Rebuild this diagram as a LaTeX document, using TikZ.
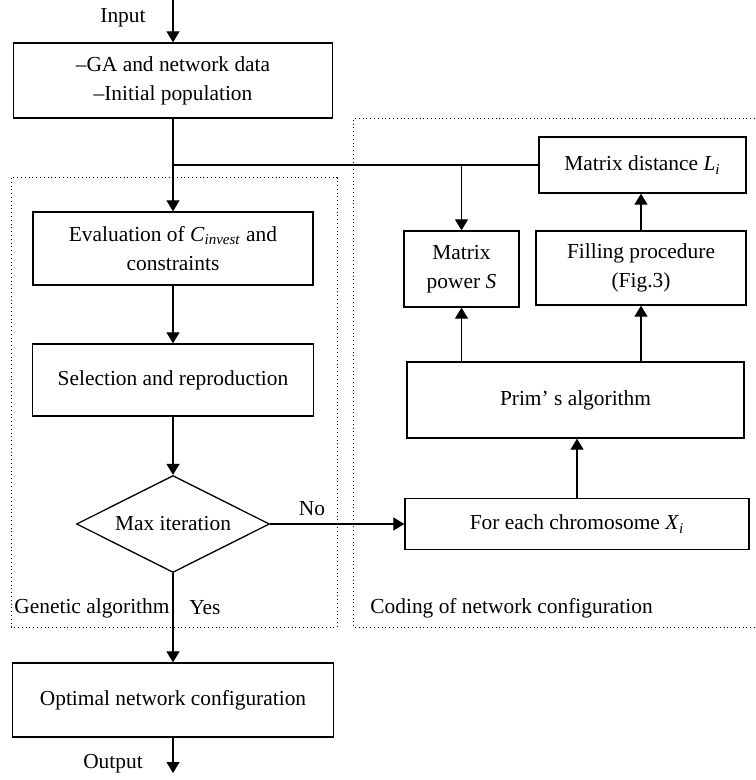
\documentclass[tikz,border=0pt]{standalone}
\usepackage{fontspec}
\setmainfont{Liberation Serif}
\usetikzlibrary{shapes.geometric,arrows.meta}

\newcommand*{\sub}[2]{\textit{#1}\textsubscript{\textit{#2}}}

\begin{document}
\begin{tikzpicture}
[
	x=0.5pt,
	y=-0.5pt,
	font=\fontsize{10.7}{14.5}\selectfont,
	box/.style={rectangle,draw,line width=0.65pt,align=center,inner sep=2pt},
	decision/.style={diamond,draw,line width=0.65pt,aspect=2,inner sep=0pt,minimum width=96.5pt,minimum height=48.5pt},
	arr/.style={-{Triangle[length=5.5pt,width=6.5pt]},line width=0.6pt},
	region/.style={line width=0.5pt,dash pattern=on 0.5pt off 1.4pt}
]

	\useasboundingbox (0,0) rectangle (755,780);

	% genetic algorithm column
	\node[box,minimum width=159.5pt,minimum height=37.5pt] at (173,80.5) (data) {--GA and network data\\--Initial population};
	\node[box,minimum width=140pt,minimum height=36.5pt] at (173,248.5) (eval) {Evaluation of \sub{C}{invest} and\\constraints};
	\node[box,minimum width=140.5pt,minimum height=36pt] at (173,380) (sel) {Selection and reproduction};
	\node[decision] at (173,524) (maxit) {Max iteration};
	\node[box,minimum width=160.5pt,minimum height=37pt] at (173,700) (opt) {Optimal network configuration};

	% coding column
	\node[box,minimum width=103.5pt,minimum height=28pt] at (642.5,165) (mdist) {Matrix distance \sub{L}{i}};
	\node[box,minimum width=57.5pt,minimum height=38pt] at (461.5,269) (mpow) {Matrix\\power \textit{S}};
	\node[box,minimum width=105pt,minimum height=37pt] at (641,268) (fill) {Filling procedure\\(Fig.3)};
	\node[box,minimum width=168.5pt,minimum height=38pt] at (575.5,400) (prim) {Prim’ s algorithm};
	\node[box,minimum width=172pt,minimum height=25.5pt] at (577,524) (chrom) {For each chromosome \sub{X}{i}};

	\coordinate (in) at (173,0);
	\coordinate (out) at (173,773);
	\coordinate (split) at (173,165);

	% flow
	\draw[arr] (in) -- (data.north);
	\draw[arr] (data.south) -- (eval.north);
	\draw[line width=0.6pt] (split) -- (mdist.west);
	\draw[arr] (mpow.north |- split) -- (mpow.north);
	\draw[arr] (eval.south) -- (sel.north);
	\draw[arr] (sel.south) -- (maxit.north);
	\draw[arr] (maxit.east) -- (chrom.west);
	\draw[arr] (maxit.south) -- (opt.north);
	\draw[arr] (opt.south) -- (out);
	\draw[arr] (chrom.north) -- (chrom.north |- prim.south);
	\draw[arr] (mpow.south |- prim.north) -- (mpow.south);
	\draw[arr] (fill.south |- prim.north) -- (fill.south);
	\draw[arr] (fill.north) -- (fill.north |- mdist.south);

	% dotted regions
	\draw[region] (11,178) rectangle (337,627);
	\draw[region] (755,119) -| (353,627) -- (755,627);

	% labels
	\node at (123,18) (inlbl) {Input};
	\node at (113,764) (outlbl) {Output};
	\node at (312,509) (nolbl) {No};
	\node at (205,608) (yeslbl) {Yes};
	\node[anchor=west,inner sep=0pt] at (14,608) (galbl) {Genetic algorithm};
	\node[anchor=west,inner sep=0pt] at (370,608) (codlbl) {Coding of network configuration};

\end{tikzpicture}
\end{document}
